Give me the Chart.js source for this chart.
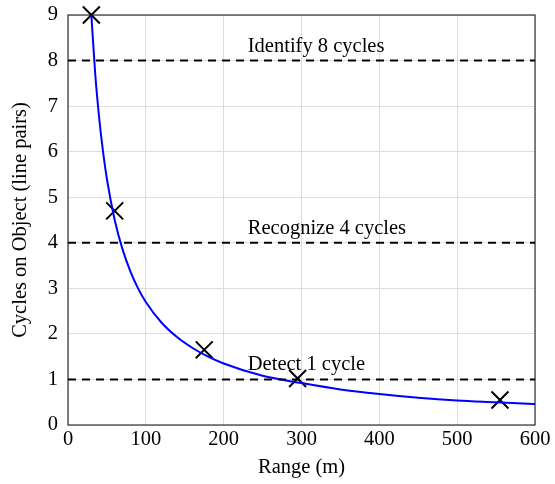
<!DOCTYPE html>
<html>
<head>
<meta charset="utf-8">
<script src="https://cdn.jsdelivr.net/npm/chart.js@4/dist/chart.umd.min.js"></script>
<style>
html,body{margin:0;padding:0;background:#fff;}
#wrap{width:555px;height:484px;}
</style>
</head>
<body>
<div id="wrap"><canvas id="c" width="555" height="484"></canvas></div>
<script>
// Curve
const curveRange  = [30, 35, 40, 45, 50, 60, 70, 80, 90, 100, 120, 140, 160, 180, 200, 250, 300, 350, 400, 450, 500, 550, 600];
const curveCycles = [9.0, 7.7, 6.75, 6.0, 5.4, 4.5, 3.86, 3.38, 3.0, 2.7, 2.25, 1.93, 1.69, 1.5, 1.35, 1.08, 0.92, 0.78, 0.68, 0.6, 0.54, 0.5, 0.46];
// Measured markers
const markRange  = [30, 60, 175, 295, 555];
const markCycles = [9.0, 4.7, 1.65, 1.02, 0.55];
// Threshold lines
const thresholdValues = [8, 4, 1];
const thresholdLabels = ['Identify 8 cycles', 'Recognize 4 cycles', 'Detect 1 cycle'];
const labelX = 231;
const xTicks = [0, 100, 200, 300, 400, 500, 600];
const yTicks = [0, 1, 2, 3, 4, 5, 6, 7, 8, 9];

const FONT = "'Liberation Serif', 'DejaVu Serif', serif";
const FS = 20.5;

const datasets = [];
thresholdValues.forEach(v => {
  datasets.push({
    type: 'line',
    data: [{x: 0, y: v}, {x: 600, y: v}],
    borderColor: '#000',
    borderWidth: 2,
    borderDash: [8, 6],
    pointRadius: 0,
    fill: false
  });
});
datasets.push({
  type: 'line',
  data: curveRange.map((x, i) => ({x, y: curveCycles[i]})),
  borderColor: '#0000ff',
  borderWidth: 2,
  pointRadius: 0,
  cubicInterpolationMode: 'monotone',
  fill: false
});
datasets.push({
  type: 'scatter',
  data: markRange.map((x, i) => ({x, y: markCycles[i]})),
  pointStyle: 'crossRot',
  pointRadius: 12,
  borderColor: '#000',
  borderWidth: 2,
  backgroundColor: '#000',
  showLine: false,
  clip: false
});

const labelPlugin = {
  id: 'thresholdLabels',
  afterDatasetsDraw(chart) {
    const ctx = chart.ctx;
    const xs = chart.scales.x, ys = chart.scales.y;
    ctx.save();
    ctx.font = FS + "px " + FONT;
    ctx.fillStyle = '#000';
    ctx.textAlign = 'left';
    ctx.textBaseline = 'alphabetic';
    thresholdValues.forEach((v, i) => {
      ctx.fillText(thresholdLabels[i], xs.getPixelForValue(labelX), ys.getPixelForValue(v) - 9);
    });
    ctx.restore();
  }
};

const borderPlugin = {
  id: 'frame',
  beforeDatasetsDraw(chart) {
    const a = chart.chartArea, ctx = chart.ctx;
    ctx.save();
    ctx.strokeStyle = '#333';
    ctx.lineWidth = 1.2;
    ctx.strokeRect(a.left, a.top, a.right - a.left, a.bottom - a.top);
    ctx.restore();
  }
};

new Chart(document.getElementById('c'), {
  type: 'scatter',
  data: { datasets },
  options: {
    responsive: false,
    animation: false,
    layout: { padding: { top: 15, right: 20, left: 0, bottom: 0 } },
    plugins: { legend: { display: false }, tooltip: { enabled: false } },
    scales: {
      x: {
        type: 'linear', min: 0, max: 600,
        afterBuildTicks(s) { s.ticks = xTicks.map(v => ({value: v})); },
        afterFit(s) { s.height = 59; s.paddingLeft = 0; s.paddingRight = 0; },
        grid: { color: '#dddddd', lineWidth: 1, drawTicks: false },
        border: { display: false },
        ticks: { color: '#000', font: { family: FONT, size: FS }, padding: 2, maxRotation: 0 },
        title: { display: true, text: 'Range (m)', color: '#000', font: { family: FONT, size: FS }, padding: { top: 6 } }
      },
      y: {
        type: 'linear', min: 0, max: 9,
        afterBuildTicks(s) { s.ticks = yTicks.map(v => ({value: v})); },
        afterFit(s) { s.width = 68; s.paddingTop = 0; s.paddingBottom = 0; },
        grid: { color: '#dddddd', lineWidth: 1, drawTicks: false },
        border: { display: false },
        ticks: { color: '#000', font: { family: FONT, size: FS }, padding: 10 },
        title: { display: true, text: 'Cycles on Object (line pairs)', color: '#000', font: { family: FONT, size: FS }, padding: { top: 8, bottom: 0 } }
      }
    }
  },
  plugins: [labelPlugin, borderPlugin]
});
</script>
</body>
</html>
